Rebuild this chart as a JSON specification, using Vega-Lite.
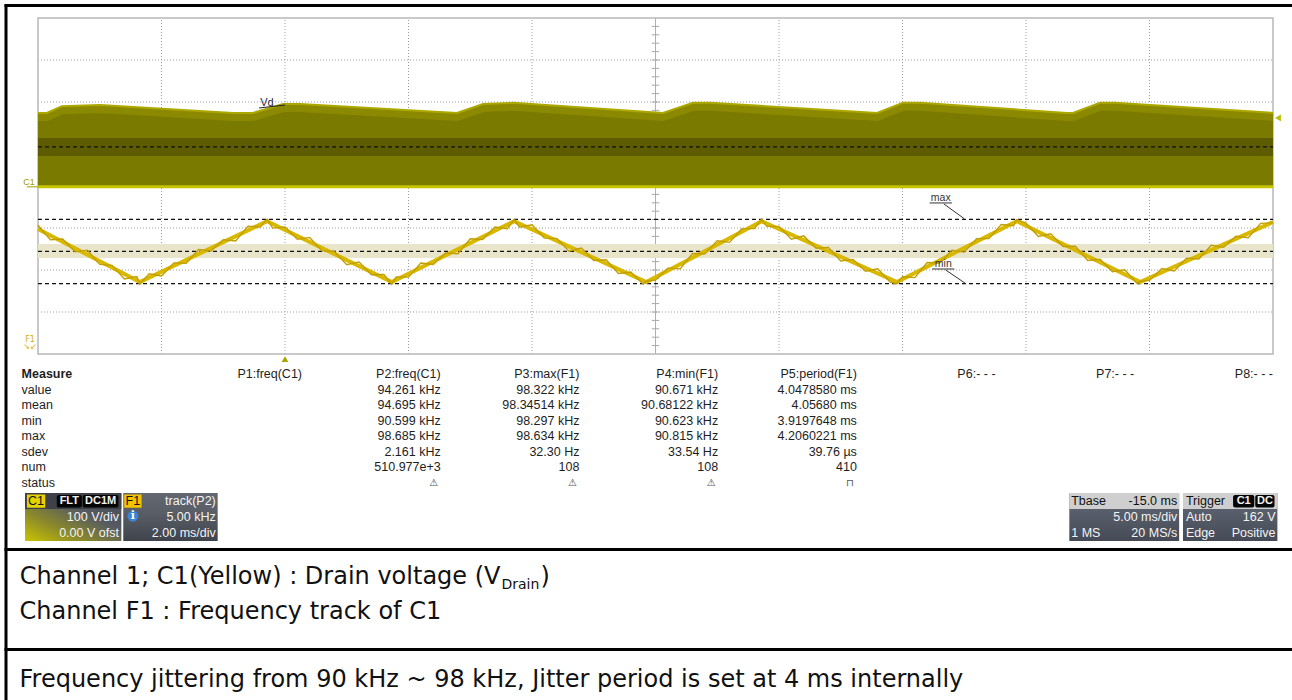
{
"$schema":"https://vega.github.io/schema/vega-lite/v6.json",
"width":1292,"height":700,"padding":0,"autosize":{"type":"none"},
"background":"#ffffff",
"config":{"view":{"stroke":null},"text":{"font":"Liberation Sans"}},
"resolve":{"scale":{"x":"independent","y":"independent"}},
"datasets":{
"one":[{}],
"frame":[{"x0":4.5,"x1":1292,"y0":5.5,"y1":5.5},{"x0":6,"x1":6,"y0":4.5,"y1":700},{"x0":4.5,"x1":1292,"y0":549.5,"y1":549.5},{"x0":4.5,"x1":1292,"y0":649.5,"y1":649.5}],
"captions":[{"x":19.5,"y":612,"txt":"Channel F1 : Frequency track of C1"},{"x":19.5,"y":680,"txt":"Frequency jittering from 90 kHz ~ 98 kHz, Jitter period is set at 4 ms internally"}],
"vgrid":[{"t":-5},{"t":0},{"t":5},{"t":10},{"t":20},{"t":25},{"t":30},{"t":35}],
"hgrid":[{"v":-300},{"v":-200},{"v":-100},{"v":100},{"v":200},{"v":300}],
"ticks":[{"v":-380},{"v":-360},{"v":-340},{"v":-320},{"v":-300},{"v":-280},{"v":-260},{"v":-240},{"v":-220},{"v":-200},{"v":-180},{"v":-160},{"v":-140},{"v":-120},{"v":-100},{"v":-80},{"v":-60},{"v":-40},{"v":-20},{"v":20},{"v":40},{"v":60},{"v":80},{"v":100},{"v":120},{"v":140},{"v":160},{"v":180},{"v":200},{"v":220},{"v":240},{"v":260},{"v":280},{"v":300},{"v":320},{"v":340},{"v":360},{"v":380}],
"env":[{"t":-10,"v":174},{"t":-9.64,"v":174},{"t":-9.03,"v":190},{"t":-7.49,"v":193},{"t":-2.11,"v":174},{"t":-1.3,"v":174},{"t":-0.08,"v":195},{"t":0.61,"v":195},{"t":6.96,"v":174},{"t":8.02,"v":195},{"t":9.23,"v":198},{"t":15.3,"v":174},{"t":16.52,"v":198},{"t":17.21,"v":198},{"t":23.97,"v":174},{"t":25.02,"v":198},{"t":25.71,"v":198},{"t":31.66,"v":174},{"t":31.9,"v":174},{"t":33,"v":198},{"t":33.6,"v":198},{"t":40,"v":174}],
"f1base":[{"t":0,"k":97.17},{"t":1.65,"k":90.85},{"t":3.71,"k":98.1},{"t":5.73,"k":90.85},{"t":7.71,"k":98.1},{"t":9.85,"k":90.85},{"t":11.72,"k":98.1},{"t":13.91,"k":90.85},{"t":15.85,"k":98.1},{"t":17.85,"k":90.85},{"t":20,"k":98.0}],
"f1":[{"t":0,"k":97.62},{"t":0.2,"k":95.9},{"t":0.4,"k":95.97},{"t":0.6,"k":94.45},{"t":0.8,"k":94.63},{"t":1.0,"k":92.96},{"t":1.2,"k":92.84},{"t":1.4,"k":91.22},{"t":1.6,"k":91.5},{"t":1.65,"k":90.6},{"t":1.8,"k":91.83},{"t":2.0,"k":91.58},{"t":2.2,"k":93.14},{"t":2.4,"k":93.09},{"t":2.6,"k":94.74},{"t":2.8,"k":94.55},{"t":3.0,"k":95.9},{"t":3.2,"k":95.75},{"t":3.4,"k":97.51},{"t":3.6,"k":97.41},{"t":3.71,"k":98.35},{"t":3.8,"k":97.28},{"t":4.0,"k":97.41},{"t":4.2,"k":95.94},{"t":4.4,"k":96.17},{"t":4.6,"k":94.56},{"t":4.8,"k":94.49},{"t":5.0,"k":92.92},{"t":5.2,"k":93.25},{"t":5.4,"k":91.73},{"t":5.6,"k":91.76},{"t":5.73,"k":90.6},{"t":5.8,"k":91.46},{"t":6.0,"k":91.44},{"t":6.2,"k":93.12},{"t":6.4,"k":92.95},{"t":6.6,"k":94.33},{"t":6.8,"k":94.22},{"t":7.0,"k":96.0},{"t":7.2,"k":95.93},{"t":7.4,"k":97.41},{"t":7.6,"k":97.2},{"t":7.71,"k":98.3},{"t":7.8,"k":97.39},{"t":8.0,"k":97.67},{"t":8.2,"k":96.09},{"t":8.4,"k":96.06},{"t":8.6,"k":94.53},{"t":8.8,"k":94.91},{"t":9.0,"k":93.43},{"t":9.2,"k":93.5},{"t":9.4,"k":91.88},{"t":9.6,"k":92.05},{"t":9.8,"k":90.62},{"t":9.85,"k":90.95},{"t":10.0,"k":91.08},{"t":10.2,"k":92.51},{"t":10.4,"k":92.43},{"t":10.6,"k":94.26},{"t":10.8,"k":94.23},{"t":11.0,"k":95.76},{"t":11.2,"k":95.58},{"t":11.4,"k":97.21},{"t":11.6,"k":97.23},{"t":11.72,"k":98.3},{"t":11.8,"k":97.49},{"t":12.0,"k":97.47},{"t":12.2,"k":95.96},{"t":12.4,"k":96.35},{"t":12.6,"k":94.89},{"t":12.8,"k":94.98},{"t":13.0,"k":93.36},{"t":13.2,"k":93.55},{"t":13.4,"k":92.14},{"t":13.6,"k":92.43},{"t":13.8,"k":90.86},{"t":13.91,"k":90.65},{"t":14.0,"k":91.49},{"t":14.2,"k":91.38},{"t":14.4,"k":93.18},{"t":14.6,"k":93.13},{"t":14.8,"k":94.63},{"t":15.0,"k":94.42},{"t":15.2,"k":96.02},{"t":15.4,"k":96.02},{"t":15.6,"k":97.71},{"t":15.8,"k":97.56},{"t":15.85,"k":98.3},{"t":16.0,"k":97.86},{"t":16.2,"k":96.28},{"t":16.4,"k":96.61},{"t":16.6,"k":95.08},{"t":16.8,"k":95.11},{"t":17.0,"k":93.43},{"t":17.2,"k":93.56},{"t":17.4,"k":92.08},{"t":17.6,"k":92.31},{"t":17.8,"k":90.68},{"t":17.85,"k":90.95},{"t":18.0,"k":91.05},{"t":18.2,"k":92.47},{"t":18.4,"k":92.18},{"t":18.6,"k":93.7},{"t":18.8,"k":93.61},{"t":19.0,"k":95.23},{"t":19.2,"k":95.0},{"t":19.4,"k":96.31},{"t":19.6,"k":96.13},{"t":19.8,"k":97.84},{"t":20.0,"k":97.9}],
"cells":[{"col":1,"row":0,"txt":"P1:freq(C1)"},{"col":2,"row":0,"txt":"P2:freq(C1)"},{"col":3,"row":0,"txt":"P3:max(F1)"},{"col":4,"row":0,"txt":"P4:min(F1)"},{"col":5,"row":0,"txt":"P5:period(F1)"},{"col":6,"row":0,"txt":"P6:- - -"},{"col":7,"row":0,"txt":"P7:- - -"},{"col":8,"row":0,"txt":"P8:- - -"},
{"col":2,"row":1,"txt":"94.261 kHz"},{"col":2,"row":2,"txt":"94.695 kHz"},{"col":2,"row":3,"txt":"90.599 kHz"},{"col":2,"row":4,"txt":"98.685 kHz"},{"col":2,"row":5,"txt":"2.161 kHz"},{"col":2,"row":6,"txt":"510.977e+3"},
{"col":3,"row":1,"txt":"98.322 kHz"},{"col":3,"row":2,"txt":"98.34514 kHz"},{"col":3,"row":3,"txt":"98.297 kHz"},{"col":3,"row":4,"txt":"98.634 kHz"},{"col":3,"row":5,"txt":"32.30 Hz"},{"col":3,"row":6,"txt":"108"},
{"col":4,"row":1,"txt":"90.671 kHz"},{"col":4,"row":2,"txt":"90.68122 kHz"},{"col":4,"row":3,"txt":"90.623 kHz"},{"col":4,"row":4,"txt":"90.815 kHz"},{"col":4,"row":5,"txt":"33.54 Hz"},{"col":4,"row":6,"txt":"108"},
{"col":5,"row":1,"txt":"4.0478580 ms"},{"col":5,"row":2,"txt":"4.05680 ms"},{"col":5,"row":3,"txt":"3.9197648 ms"},{"col":5,"row":4,"txt":"4.2060221 ms"},{"col":5,"row":5,"txt":"39.76 µs"},{"col":5,"row":6,"txt":"410"}],
"labels":[{"row":1,"txt":"value"},{"row":2,"txt":"mean"},{"row":3,"txt":"min"},{"row":4,"txt":"max"},{"row":5,"txt":"sdev"},{"row":6,"txt":"num"},{"row":7,"txt":"status"}],
"icons":[{"col":2,"row":7,"txt":"⚠"},{"col":3,"row":7,"txt":"⚠"},{"col":4,"row":7,"txt":"⚠"},{"col":5,"row":7,"txt":"⊓"}],
"blackchips":[{"p0":0.33,"p1":0.59,"pm":0.46,"txt":"FLT"},{"p0":0.6,"p1":0.97,"pm":0.785,"txt":"DC1M"},{"p0":12.54,"p1":12.76,"pm":12.65,"txt":"C1"},{"p0":12.77,"p1":12.97,"pm":12.87,"txt":"DC"}],
"whiteRight":[{"pos":0.975,"line":1.5,"txt":"100 V/div"},{"pos":0.975,"line":2.5,"txt":"0.00 V ofst"},{"pos":1.98,"line":0.5,"txt":"track(P2)"},{"pos":1.98,"line":1.5,"txt":"5.00 kHz"},{"pos":1.98,"line":2.5,"txt":"2.00 ms/div"},{"pos":11.96,"line":1.5,"txt":"5.00 ms/div"},{"pos":11.96,"line":2.5,"txt":"20 MS/s"},{"pos":12.98,"line":1.5,"txt":"162 V"},{"pos":12.98,"line":2.5,"txt":"Positive"}],
"whiteLeft":[{"pos":10.86,"line":2.5,"txt":"1 MS"},{"pos":12.05,"line":1.5,"txt":"Auto"},{"pos":12.05,"line":2.5,"txt":"Edge"}],
"blackLeft":[{"pos":10.86,"line":0.5,"txt":"Tbase"},{"pos":12.05,"line":0.5,"txt":"Trigger"}],
"blackRight":[{"pos":11.96,"line":0.5,"txt":"-15.0 ms"}]
},
"layer":[
{"layer":[
 {"data":{"name":"frame"},"mark":{"type":"rule","stroke":"#000000","strokeWidth":3},
  "encoding":{"x":{"field":"x0","type":"quantitative","scale":{"domain":[0,1292],"range":[0,1292],"nice":false,"zero":false},"axis":null},"x2":{"field":"x1"},"y":{"field":"y0","type":"quantitative","scale":{"domain":[0,700],"range":[0,700],"nice":false,"zero":false},"axis":null},"y2":{"field":"y1"}}},
 {"data":{"name":"captions"},"mark":{"type":"text","align":"left","baseline":"middle","font":"DejaVu Sans","fontSize":24,"color":"#111111"},
  "encoding":{"x":{"field":"x","type":"quantitative","scale":{"domain":[0,1292],"range":[0,1292],"nice":false,"zero":false},"axis":null},"y":{"field":"y","type":"quantitative","scale":{"domain":[0,700],"range":[0,700],"nice":false,"zero":false},"axis":null},"text":{"field":"txt"}}},
 {"data":{"values":[{"x":500.5,"y":577,"txt":"Channel 1; C1(Yellow) : Drain voltage (V"}]},"mark":{"type":"text","align":"right","baseline":"middle","font":"DejaVu Sans","fontSize":24,"color":"#111111"},
  "encoding":{"x":{"field":"x","type":"quantitative","scale":{"domain":[0,1292],"range":[0,1292],"nice":false,"zero":false},"axis":null},"y":{"field":"y","type":"quantitative","scale":{"domain":[0,700],"range":[0,700],"nice":false,"zero":false},"axis":null},"text":{"field":"txt"}}},
 {"data":{"values":[{"x":501.5,"y":585,"txt":"Drain"}]},"mark":{"type":"text","align":"left","baseline":"middle","font":"DejaVu Sans","fontSize":14,"color":"#111111"},
  "encoding":{"x":{"field":"x","type":"quantitative","scale":{"domain":[0,1292],"range":[0,1292],"nice":false,"zero":false},"axis":null},"y":{"field":"y","type":"quantitative","scale":{"domain":[0,700],"range":[0,700],"nice":false,"zero":false},"axis":null},"text":{"field":"txt"}}},
 {"data":{"values":[{"x":540.5,"y":577,"txt":")"}]},"mark":{"type":"text","align":"left","baseline":"middle","font":"DejaVu Sans","fontSize":24,"color":"#111111"},
  "encoding":{"x":{"field":"x","type":"quantitative","scale":{"domain":[0,1292],"range":[0,1292],"nice":false,"zero":false},"axis":null},"y":{"field":"y","type":"quantitative","scale":{"domain":[0,700],"range":[0,700],"nice":false,"zero":false},"axis":null},"text":{"field":"txt"}}}
]},
{"layer":[
 {"data":{"name":"vgrid"},"mark":{"type":"rule","stroke":"#9c9c9c","strokeWidth":1,"strokeDash":[1,2]},
  "encoding":{"x":{"field":"t","type":"quantitative","scale":{"domain":[-10,40],"range":[38,1273],"nice":false,"zero":false},"axis":null},"y":{"datum":-400,"type":"quantitative","scale":{"domain":[-400,400],"range":[354,18],"nice":false,"zero":false},"axis":null},"y2":{"datum":400}}},
 {"data":{"name":"hgrid"},"mark":{"type":"rule","stroke":"#9c9c9c","strokeWidth":1,"strokeDash":[1,2]},
  "encoding":{"y":{"field":"v","type":"quantitative","scale":{"domain":[-400,400],"range":[354,18],"nice":false,"zero":false},"axis":null},"x":{"datum":-10,"type":"quantitative","scale":{"domain":[-10,40],"range":[38,1273],"nice":false,"zero":false},"axis":null},"x2":{"datum":40}}},
 {"data":{"name":"one"},"mark":{"type":"rule","stroke":"#b0b0b0","strokeWidth":1},
  "encoding":{"x":{"datum":15,"type":"quantitative","scale":{"domain":[-10,40],"range":[38,1273],"nice":false,"zero":false},"axis":null},"y":{"datum":-400,"type":"quantitative","scale":{"domain":[-400,400],"range":[354,18],"nice":false,"zero":false},"axis":null},"y2":{"datum":400}}},
 {"data":{"name":"ticks"},"mark":{"type":"rule","stroke":"#a8a8a8","strokeWidth":1},
  "encoding":{"y":{"field":"v","type":"quantitative","scale":{"domain":[-400,400],"range":[354,18],"nice":false,"zero":false},"axis":null},"x":{"datum":14.85,"type":"quantitative","scale":{"domain":[-10,40],"range":[38,1273],"nice":false,"zero":false},"axis":null},"x2":{"datum":15.15}}},
 {"data":{"name":"one"},"mark":{"type":"rect","fillOpacity":0,"stroke":"#b8b8b8","strokeWidth":1.5},
  "encoding":{"x":{"datum":-10,"type":"quantitative","scale":{"domain":[-10,40],"range":[38,1273],"nice":false,"zero":false},"axis":null},"x2":{"datum":40},"y":{"datum":-400,"type":"quantitative","scale":{"domain":[-400,400],"range":[354,18],"nice":false,"zero":false},"axis":null},"y2":{"datum":400}}},
 {"data":{"name":"env"},"mark":{"type":"area","color":"#7b7a00"},
  "encoding":{"x":{"field":"t","type":"quantitative","scale":{"domain":[-10,40],"range":[38,1273],"nice":false,"zero":false},"axis":null},"y":{"field":"v","type":"quantitative","scale":{"domain":[-400,400],"range":[354,18],"nice":false,"zero":false},"axis":null},"y2":{"datum":-2}}},
 {"data":{"name":"env"},"mark":{"type":"line","color":"#8b8900","strokeWidth":8,"yOffset":4},
  "encoding":{"x":{"field":"t","type":"quantitative","scale":{"domain":[-10,40],"range":[38,1273],"nice":false,"zero":false},"axis":null},"y":{"field":"v","type":"quantitative","scale":{"domain":[-400,400],"range":[354,18],"nice":false,"zero":false},"axis":null}}},
 {"data":{"name":"one"},"mark":{"type":"rect","color":"#5d5c00"},
  "encoding":{"x":{"datum":-10,"type":"quantitative","scale":{"domain":[-10,40],"range":[38,1273],"nice":false,"zero":false},"axis":null},"x2":{"datum":40},"y":{"datum":114,"type":"quantitative","scale":{"domain":[-400,400],"range":[354,18],"nice":false,"zero":false},"axis":null},"y2":{"datum":71.4}}},
 {"data":{"name":"one"},"mark":{"type":"rule","stroke":"#111111","strokeWidth":1.2,"strokeDash":[4,3]},
  "encoding":{"x":{"datum":-10,"type":"quantitative","scale":{"domain":[-10,40],"range":[38,1273],"nice":false,"zero":false},"axis":null},"x2":{"datum":40},"y":{"datum":93,"type":"quantitative","scale":{"domain":[-400,400],"range":[354,18],"nice":false,"zero":false},"axis":null}}},
 {"data":{"name":"env"},"mark":{"type":"line","color":"#aca800","strokeWidth":2},
  "encoding":{"x":{"field":"t","type":"quantitative","scale":{"domain":[-10,40],"range":[38,1273],"nice":false,"zero":false},"axis":null},"y":{"field":"v","type":"quantitative","scale":{"domain":[-400,400],"range":[354,18],"nice":false,"zero":false},"axis":null}}},
 {"data":{"name":"one"},"mark":{"type":"rule","stroke":"#c6c300","strokeWidth":3},
  "encoding":{"x":{"datum":-10,"type":"quantitative","scale":{"domain":[-10,40],"range":[38,1273],"nice":false,"zero":false},"axis":null},"x2":{"datum":40},"y":{"datum":-2,"type":"quantitative","scale":{"domain":[-400,400],"range":[354,18],"nice":false,"zero":false},"axis":null}}},
 {"data":{"values":[{"t":-0.73,"v":197.6,"lbl":"Vd"}]},"mark":{"type":"text","fontSize":11,"color":"#2a2a44","baseline":"middle","align":"center"},
  "encoding":{"x":{"field":"t","type":"quantitative","scale":{"domain":[-10,40],"range":[38,1273],"nice":false,"zero":false},"axis":null},"y":{"field":"v","type":"quantitative","scale":{"domain":[-400,400],"range":[354,18],"nice":false,"zero":false},"axis":null},"text":{"field":"lbl"}}},
 {"data":{"name":"one"},"mark":{"type":"rule","stroke":"#222222","strokeWidth":1.2},
  "encoding":{"x":{"datum":-1.05,"type":"quantitative","scale":{"domain":[-10,40],"range":[38,1273],"nice":false,"zero":false},"axis":null},"x2":{"datum":0},"y":{"datum":185.7,"type":"quantitative","scale":{"domain":[-400,400],"range":[354,18],"nice":false,"zero":false},"axis":null},"y2":{"datum":192.9}}},
 {"data":{"values":[{"t":-10,"v":10,"lbl":"C1"}]},"mark":{"type":"text","fontSize":9,"color":"#a09d00","baseline":"middle","align":"center","dx":-9},
  "encoding":{"x":{"field":"t","type":"quantitative","scale":{"domain":[-10,40],"range":[38,1273],"nice":false,"zero":false},"axis":null},"y":{"field":"v","type":"quantitative","scale":{"domain":[-400,400],"range":[354,18],"nice":false,"zero":false},"axis":null},"text":{"field":"lbl"}}},
 {"data":{"name":"one"},"mark":{"type":"rule","stroke":"#a09d00","strokeWidth":1},
  "encoding":{"x":{"datum":-10.45,"type":"quantitative","scale":{"domain":[-10,40],"range":[38,1273],"nice":false,"zero":false},"axis":null},"x2":{"datum":-10},"y":{"datum":-2,"type":"quantitative","scale":{"domain":[-400,400],"range":[354,18],"nice":false,"zero":false},"axis":null}}},
 {"data":{"name":"one"},"mark":{"type":"point","shape":"triangle-left","filled":true,"size":45,"color":"#bcb900","opacity":1,"xOffset":5},
  "encoding":{"x":{"datum":40,"type":"quantitative","scale":{"domain":[-10,40],"range":[38,1273],"nice":false,"zero":false},"axis":null},"y":{"datum":162,"type":"quantitative","scale":{"domain":[-400,400],"range":[354,18],"nice":false,"zero":false},"axis":null}}},
 {"data":{"name":"one"},"mark":{"type":"point","shape":"triangle-up","filled":true,"size":45,"color":"#a8a500","opacity":1},
  "encoding":{"x":{"datum":0,"type":"quantitative","scale":{"domain":[-10,40],"range":[38,1273],"nice":false,"zero":false},"axis":null},"y":{"datum":-412,"type":"quantitative","scale":{"domain":[-400,400],"range":[354,18],"nice":false,"zero":false},"axis":null}}}
]},
{"layer":[
 {"data":{"name":"one"},"mark":{"type":"rect","color":"#e8e5cb"},
  "encoding":{"x":{"datum":0,"type":"quantitative","scale":{"domain":[0,20],"range":[38,1273],"nice":false,"zero":false},"axis":null},"x2":{"datum":20},"y":{"datum":93.72,"type":"quantitative","scale":{"domain":[82.29,122.29],"range":[354,18],"nice":false,"zero":false},"axis":null},"y2":{"datum":95.39}}},
 {"data":{"values":[{"k":98.322},{"k":94.5},{"k":90.671}]},"mark":{"type":"rule","stroke":"#111111","strokeWidth":1.3,"strokeDash":[4,3]},
  "encoding":{"y":{"field":"k","type":"quantitative","scale":{"domain":[82.29,122.29],"range":[354,18],"nice":false,"zero":false},"axis":null},"x":{"datum":0,"type":"quantitative","scale":{"domain":[0,20],"range":[38,1273],"nice":false,"zero":false},"axis":null},"x2":{"datum":20}}},
 {"data":{"name":"f1base"},"mark":{"type":"line","color":"#d9b800","strokeWidth":4},
  "encoding":{"x":{"field":"t","type":"quantitative","scale":{"domain":[0,20],"range":[38,1273],"nice":false,"zero":false},"axis":null},"y":{"field":"k","type":"quantitative","scale":{"domain":[82.29,122.29],"range":[354,18],"nice":false,"zero":false},"axis":null}}},
 {"data":{"name":"f1"},"mark":{"type":"line","color":"#c29e00","strokeWidth":1.4},
  "encoding":{"x":{"field":"t","type":"quantitative","scale":{"domain":[0,20],"range":[38,1273],"nice":false,"zero":false},"axis":null},"y":{"field":"k","type":"quantitative","scale":{"domain":[82.29,122.29],"range":[354,18],"nice":false,"zero":false},"axis":null}}},
 {"data":{"values":[{"t":14.62,"k":100.87,"lbl":"max"},{"t":14.66,"k":93.01,"lbl":"min"}]},"mark":{"type":"text","fontSize":10.5,"color":"#333333","align":"center","baseline":"middle"},
  "encoding":{"x":{"field":"t","type":"quantitative","scale":{"domain":[0,20],"range":[38,1273],"nice":false,"zero":false},"axis":null},"y":{"field":"k","type":"quantitative","scale":{"domain":[82.29,122.29],"range":[354,18],"nice":false,"zero":false},"axis":null},"text":{"field":"lbl"}}},
 {"data":{"values":[{"t0":14.44,"k0":100.27,"t1":14.8,"k1":100.27},{"t0":14.67,"k0":100.15,"t1":15.0,"k1":98.4},{"t0":14.48,"k0":92.41,"t1":14.84,"k1":92.41},{"t0":14.7,"k0":92.29,"t1":15.02,"k1":90.69}]},"mark":{"type":"rule","stroke":"#333333","strokeWidth":1},
  "encoding":{"x":{"field":"t0","type":"quantitative","scale":{"domain":[0,20],"range":[38,1273],"nice":false,"zero":false},"axis":null},"x2":{"field":"t1"},"y":{"field":"k0","type":"quantitative","scale":{"domain":[82.29,122.29],"range":[354,18],"nice":false,"zero":false},"axis":null},"y2":{"field":"k1"}}},
 {"data":{"values":[{"t":-0.13,"k":83.96,"lbl":"F1"},{"t":-0.13,"k":83.13,"lbl":"↘↙"}]},"mark":{"type":"text","fontSize":8,"color":"#d4ae00","align":"center","baseline":"middle","font":"DejaVu Sans"},
  "encoding":{"x":{"field":"t","type":"quantitative","scale":{"domain":[0,20],"range":[38,1273],"nice":false,"zero":false},"axis":null},"y":{"field":"k","type":"quantitative","scale":{"domain":[82.29,122.29],"range":[354,18],"nice":false,"zero":false},"axis":null},"text":{"field":"lbl"}}}
]},
{"layer":[
 {"data":{"name":"cells"},"mark":{"type":"text","align":"right","baseline":"middle","fontSize":12.5,"color":"#1e1e1e"},
  "encoding":{"x":{"field":"col","type":"quantitative","scale":{"domain":[1,8],"range":[302,1273],"nice":false,"zero":false},"axis":null},"y":{"field":"row","type":"quantitative","scale":{"domain":[0,7],"range":[374,483],"nice":false,"zero":false},"axis":null},"text":{"field":"txt"}}},
 {"data":{"name":"labels"},"mark":{"type":"text","align":"left","baseline":"middle","fontSize":12.5,"color":"#1e1e1e","dx":-3},
  "encoding":{"x":{"datum":-1,"type":"quantitative","scale":{"domain":[1,8],"range":[302,1273],"nice":false,"zero":false},"axis":null},"y":{"field":"row","type":"quantitative","scale":{"domain":[0,7],"range":[374,483],"nice":false,"zero":false},"axis":null},"text":{"field":"txt"}}},
 {"data":{"values":[{"row":0,"txt":"Measure"}]},"mark":{"type":"text","align":"left","baseline":"middle","fontSize":12.5,"fontWeight":"bold","color":"#1e1e1e","dx":-3},
  "encoding":{"x":{"datum":-1,"type":"quantitative","scale":{"domain":[1,8],"range":[302,1273],"nice":false,"zero":false},"axis":null},"y":{"field":"row","type":"quantitative","scale":{"domain":[0,7],"range":[374,483],"nice":false,"zero":false},"axis":null},"text":{"field":"txt"}}},
 {"data":{"name":"icons"},"mark":{"type":"text","align":"center","baseline":"middle","fontSize":10,"color":"#555555","dx":-7,"font":"DejaVu Sans"},
  "encoding":{"x":{"field":"col","type":"quantitative","scale":{"domain":[1,8],"range":[302,1273],"nice":false,"zero":false},"axis":null},"y":{"field":"row","type":"quantitative","scale":{"domain":[0,7],"range":[374,483],"nice":false,"zero":false},"axis":null},"text":{"field":"txt"}}}
]},
{"layer":[
 {"data":{"name":"one"},"mark":{"type":"rect","fill":{"gradient":"linear","x1":0,"y1":1,"x2":1,"y2":0,"stops":[{"offset":0,"color":"#c9c400"},{"offset":0.3,"color":"#8c8a2a"},{"offset":0.62,"color":"#555963"},{"offset":1,"color":"#454952"}]}},
  "encoding":{"x":{"datum":0,"type":"quantitative","scale":{"domain":[0,13],"range":[25,1277.4],"nice":false,"zero":false},"axis":null},"x2":{"datum":1},"y":{"datum":0,"type":"quantitative","scale":{"domain":[0,3],"range":[493,541],"nice":false,"zero":false},"axis":null},"y2":{"datum":3}}},
 {"data":{"name":"one"},"mark":{"type":"rect","color":"#3e4248"},
  "encoding":{"x":{"datum":0,"type":"quantitative","scale":{"domain":[0,13],"range":[25,1277.4],"nice":false,"zero":false},"axis":null},"x2":{"datum":1},"y":{"datum":0,"type":"quantitative","scale":{"domain":[0,3],"range":[493,541],"nice":false,"zero":false},"axis":null},"y2":{"datum":1}}},
 {"data":{"name":"one"},"mark":{"type":"rect","fill":{"gradient":"linear","x1":0,"y1":0,"x2":0,"y2":1,"stops":[{"offset":0,"color":"#63676f"},{"offset":0.4,"color":"#5a5e66"},{"offset":1,"color":"#3f434b"}]}},
  "encoding":{"x":{"datum":1.02,"type":"quantitative","scale":{"domain":[0,13],"range":[25,1277.4],"nice":false,"zero":false},"axis":null},"x2":{"datum":2},"y":{"datum":0,"type":"quantitative","scale":{"domain":[0,3],"range":[493,541],"nice":false,"zero":false},"axis":null},"y2":{"datum":3}}},
 {"data":{"values":[{"s0":10.84,"s1":11.98},{"s0":12.02,"s1":13}]},"mark":{"type":"rect","fill":{"gradient":"linear","x1":0,"y1":0,"x2":0,"y2":1,"stops":[{"offset":0,"color":"#646a78"},{"offset":1,"color":"#454a56"}]}},
  "encoding":{"x":{"field":"s0","type":"quantitative","scale":{"domain":[0,13],"range":[25,1277.4],"nice":false,"zero":false},"axis":null},"x2":{"field":"s1"},"y":{"datum":0,"type":"quantitative","scale":{"domain":[0,3],"range":[493,541],"nice":false,"zero":false},"axis":null},"y2":{"datum":3}}},
 {"data":{"values":[{"s0":10.84,"s1":11.98},{"s0":12.02,"s1":13}]},"mark":{"type":"rect","color":"#cfcfcf"},
  "encoding":{"x":{"field":"s0","type":"quantitative","scale":{"domain":[0,13],"range":[25,1277.4],"nice":false,"zero":false},"axis":null},"x2":{"field":"s1"},"y":{"datum":0,"type":"quantitative","scale":{"domain":[0,3],"range":[493,541],"nice":false,"zero":false},"axis":null},"y2":{"datum":1}}},
 {"data":{"name":"blackchips"},"mark":{"type":"rect","color":"#050505","cornerRadius":2},
  "encoding":{"x":{"field":"p0","type":"quantitative","scale":{"domain":[0,13],"range":[25,1277.4],"nice":false,"zero":false},"axis":null},"x2":{"field":"p1"},"y":{"datum":0.12,"type":"quantitative","scale":{"domain":[0,3],"range":[493,541],"nice":false,"zero":false},"axis":null},"y2":{"datum":0.9}}},
 {"data":{"values":[{"p0":0.02,"p1":0.21}]},"mark":{"type":"rect","color":"#e6d300"},
  "encoding":{"x":{"field":"p0","type":"quantitative","scale":{"domain":[0,13],"range":[25,1277.4],"nice":false,"zero":false},"axis":null},"x2":{"field":"p1"},"y":{"datum":0.1,"type":"quantitative","scale":{"domain":[0,3],"range":[493,541],"nice":false,"zero":false},"axis":null},"y2":{"datum":0.92}}},
 {"data":{"values":[{"p0":1.03,"p1":1.21}]},"mark":{"type":"rect","color":"#f3c200"},
  "encoding":{"x":{"field":"p0","type":"quantitative","scale":{"domain":[0,13],"range":[25,1277.4],"nice":false,"zero":false},"axis":null},"x2":{"field":"p1"},"y":{"datum":0.1,"type":"quantitative","scale":{"domain":[0,3],"range":[493,541],"nice":false,"zero":false},"axis":null},"y2":{"datum":0.92}}},
 {"data":{"values":[{"pm":0.115,"txt":"C1"},{"pm":1.12,"txt":"F1"}]},"mark":{"type":"text","color":"#111111","fontSize":12.5,"align":"center","baseline":"middle"},
  "encoding":{"x":{"field":"pm","type":"quantitative","scale":{"domain":[0,13],"range":[25,1277.4],"nice":false,"zero":false},"axis":null},"y":{"datum":0.52,"type":"quantitative","scale":{"domain":[0,3],"range":[493,541],"nice":false,"zero":false},"axis":null},"text":{"field":"txt"}}},
 {"data":{"name":"blackchips"},"mark":{"type":"text","color":"#f2f2f2","fontSize":11,"fontWeight":"bold","align":"center","baseline":"middle"},
  "encoding":{"x":{"field":"pm","type":"quantitative","scale":{"domain":[0,13],"range":[25,1277.4],"nice":false,"zero":false},"axis":null},"y":{"datum":0.52,"type":"quantitative","scale":{"domain":[0,3],"range":[493,541],"nice":false,"zero":false},"axis":null},"text":{"field":"txt"}}},
 {"data":{"name":"one"},"mark":{"type":"point","shape":"circle","filled":true,"size":120,"color":"#3a86d6","opacity":1},
  "encoding":{"x":{"datum":1.12,"type":"quantitative","scale":{"domain":[0,13],"range":[25,1277.4],"nice":false,"zero":false},"axis":null},"y":{"datum":1.45,"type":"quantitative","scale":{"domain":[0,3],"range":[493,541],"nice":false,"zero":false},"axis":null}}},
 {"data":{"values":[{"pm":1.12,"line":1.45,"txt":"i"}]},"mark":{"type":"text","color":"#ffffff","fontSize":11,"fontWeight":"bold","align":"center","baseline":"middle","font":"DejaVu Serif"},
  "encoding":{"x":{"field":"pm","type":"quantitative","scale":{"domain":[0,13],"range":[25,1277.4],"nice":false,"zero":false},"axis":null},"y":{"field":"line","type":"quantitative","scale":{"domain":[0,3],"range":[493,541],"nice":false,"zero":false},"axis":null},"text":{"field":"txt"}}},
 {"data":{"name":"whiteRight"},"mark":{"type":"text","color":"#f4f4f4","fontSize":12.5,"align":"right","baseline":"middle"},
  "encoding":{"x":{"field":"pos","type":"quantitative","scale":{"domain":[0,13],"range":[25,1277.4],"nice":false,"zero":false},"axis":null},"y":{"field":"line","type":"quantitative","scale":{"domain":[0,3],"range":[493,541],"nice":false,"zero":false},"axis":null},"text":{"field":"txt"}}},
 {"data":{"name":"whiteLeft"},"mark":{"type":"text","color":"#f4f4f4","fontSize":12.5,"align":"left","baseline":"middle"},
  "encoding":{"x":{"field":"pos","type":"quantitative","scale":{"domain":[0,13],"range":[25,1277.4],"nice":false,"zero":false},"axis":null},"y":{"field":"line","type":"quantitative","scale":{"domain":[0,3],"range":[493,541],"nice":false,"zero":false},"axis":null},"text":{"field":"txt"}}},
 {"data":{"name":"blackLeft"},"mark":{"type":"text","color":"#111111","fontSize":12.5,"align":"left","baseline":"middle"},
  "encoding":{"x":{"field":"pos","type":"quantitative","scale":{"domain":[0,13],"range":[25,1277.4],"nice":false,"zero":false},"axis":null},"y":{"field":"line","type":"quantitative","scale":{"domain":[0,3],"range":[493,541],"nice":false,"zero":false},"axis":null},"text":{"field":"txt"}}},
 {"data":{"name":"blackRight"},"mark":{"type":"text","color":"#111111","fontSize":12.5,"align":"right","baseline":"middle"},
  "encoding":{"x":{"field":"pos","type":"quantitative","scale":{"domain":[0,13],"range":[25,1277.4],"nice":false,"zero":false},"axis":null},"y":{"field":"line","type":"quantitative","scale":{"domain":[0,3],"range":[493,541],"nice":false,"zero":false},"axis":null},"text":{"field":"txt"}}}
]}
]
}
